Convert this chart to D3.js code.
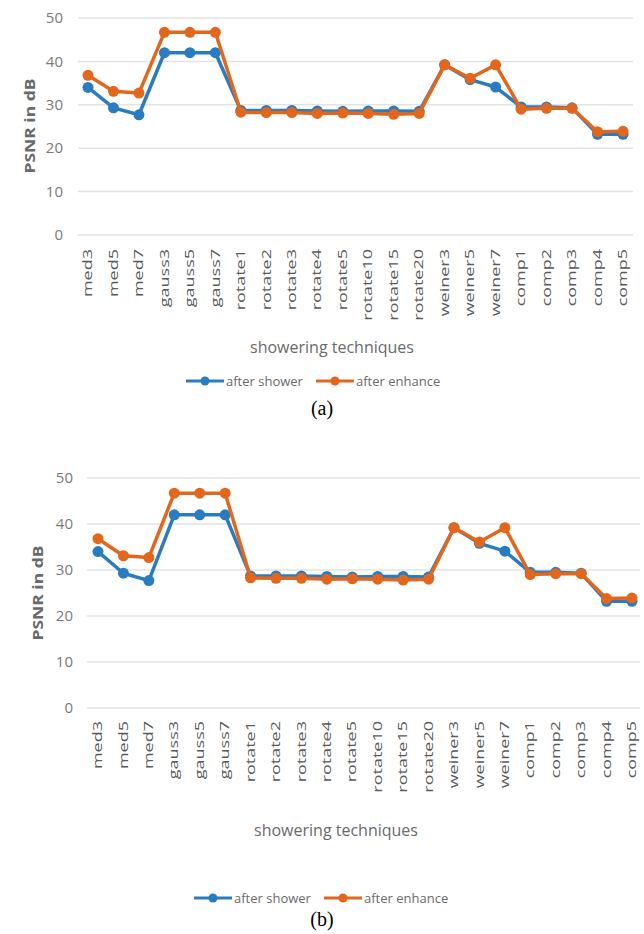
<!DOCTYPE html>
<html>
<head>
<meta charset="utf-8">
<script src="https://cdn.jsdelivr.net/npm/d3@7"></script>
<style>
  body { margin: 0; background: #fff; }
  text { font-family: "Open Sans", sans-serif; }
</style>
</head>
<body>
<div id="chart"></div>
<script>
const techniques = ["med3", "med5", "med7", "gauss3", "gauss5", "gauss7",
  "rotate1", "rotate2", "rotate3", "rotate4", "rotate5", "rotate10", "rotate15", "rotate20",
  "weiner3", "weiner5", "weiner7", "comp1", "comp2", "comp3", "comp4", "comp5"];
const afterShower = [34, 29.3, 27.7, 42, 42, 42, 28.7, 28.7, 28.7, 28.6, 28.5, 28.6, 28.6, 28.5,
  39.2, 35.8, 34.1, 29.5, 29.5, 29.3, 23.2, 23.2];
const afterEnhance = [36.8, 33.1, 32.7, 46.7, 46.7, 46.7, 28.3, 28.2, 28.2, 28.0, 28.1, 28.0, 27.8, 28.0,
  39.2, 36.1, 39.2, 29.0, 29.2, 29.2, 23.8, 23.9];
const yTicks = [0, 10, 20, 30, 40, 50];
const seriesNames = ["after shower", "after enhance"];
const captions = ["(a)", "(b)"];

const colors = ["#2a7cc0", "#e2661c"];

const svg = d3.select("#chart")
  .append("svg")
  .attr("width", 644)
  .attr("height", 934);

// two copies of the same chart, slightly different placement
const panels = [
  { xFirst: 88, xLast: 623, gridL: 78, gridR: 633, y0: 235, y50: 18, tickX: 63,
    titleX: 30, titleY: 126, labelTop: 249, axisTitleX: 332, axisTitleY: 353,
    legendY: 381, legendX: 186, capY: 415 },
  { xFirst: 98, xLast: 632, gridL: 87, gridR: 640, y0: 708, y50: 478, tickX: 73,
    titleX: 38, titleY: 593, labelTop: 721, axisTitleX: 336, axisTitleY: 836,
    legendY: 898, legendX: 194, capY: 926 }
];

panels.forEach((p, pi) => {
  const g = svg.append("g");

  const x = d3.scalePoint().domain(techniques).range([p.xFirst, p.xLast]);
  const y = d3.scaleLinear().domain([0, 50]).range([p.y0, p.y50]);

  // gridlines
  g.append("g")
    .selectAll("line")
    .data(yTicks)
    .enter().append("line")
    .attr("x1", p.gridL)
    .attr("x2", p.gridR)
    .attr("y1", d => y(d))
    .attr("y2", d => y(d))
    .attr("stroke", "#e3e3e3")
    .attr("stroke-width", 1.5);

  // y tick labels
  g.append("g")
    .selectAll("text")
    .data(yTicks)
    .enter().append("text")
    .attr("x", p.tickX)
    .attr("y", d => y(d))
    .attr("dy", "0.35em")
    .attr("text-anchor", "end")
    .style("font-size", "15px")
    .style("fill", "#7a7a7a")
    .text(d => d);

  // y axis title
  g.append("text")
    .attr("transform", `translate(${p.titleX},${p.titleY}) rotate(-90) scale(1.25,1)`)
    .attr("text-anchor", "middle")
    .attr("dy", "0.35em")
    .style("font-size", "14px")
    .style("font-weight", "bold")
    .style("fill", "#6a6a6a")
    .text("PSNR in dB");

  // category labels
  g.append("g")
    .selectAll("text")
    .data(techniques)
    .enter().append("text")
    .attr("transform", d => `translate(${x(d)},${p.labelTop}) rotate(-90) scale(1.5,1)`)
    .attr("text-anchor", "end")
    .attr("dy", "0.35em")
    .style("font-size", "12px")
    .style("fill", "#5a5a5a")
    .text(d => d);

  // x axis title
  g.append("text")
    .attr("x", p.axisTitleX)
    .attr("y", p.axisTitleY)
    .attr("text-anchor", "middle")
    .style("font-size", "16px")
    .style("fill", "#6a6a6a")
    .text("showering techniques");

  // lines + markers
  [afterShower, afterEnhance].forEach((vals, si) => {
    const line = d3.line()
      .x((d, i) => x(techniques[i]))
      .y(d => y(d));
    g.append("path")
      .datum(vals)
      .attr("fill", "none")
      .attr("stroke", colors[si])
      .attr("stroke-width", 3.5)
      .attr("stroke-linejoin", "round")
      .attr("d", line);
    g.append("g")
      .selectAll("circle")
      .data(vals)
      .enter().append("circle")
      .attr("cx", (d, i) => x(techniques[i]))
      .attr("cy", d => y(d))
      .attr("r", 5.5)
      .attr("fill", colors[si]);
  });

  // legend
  const legend = g.append("g").attr("transform", `translate(${p.legendX},${p.legendY})`);
  const offsets = [0, 130];
  seriesNames.forEach((name, si) => {
    const lg = legend.append("g").attr("transform", `translate(${offsets[si]},0)`);
    lg.append("line")
      .attr("x1", 0).attr("x2", 38)
      .attr("stroke", colors[si])
      .attr("stroke-width", 3);
    lg.append("circle")
      .attr("cx", 19)
      .attr("r", 4.5)
      .attr("fill", colors[si]);
    lg.append("text")
      .attr("x", 40)
      .attr("dy", "0.35em")
      .style("font-size", "13px")
      .style("fill", "#6a6a6a")
      .text(name);
  });

  // caption
  g.append("text")
    .attr("x", 322)
    .attr("y", p.capY)
    .attr("text-anchor", "middle")
    .style("font-family", "'Liberation Serif', 'Times New Roman', serif")
    .style("font-size", "20px")
    .style("fill", "#000")
    .text(captions[pi]);
});
</script>
</body>
</html>
